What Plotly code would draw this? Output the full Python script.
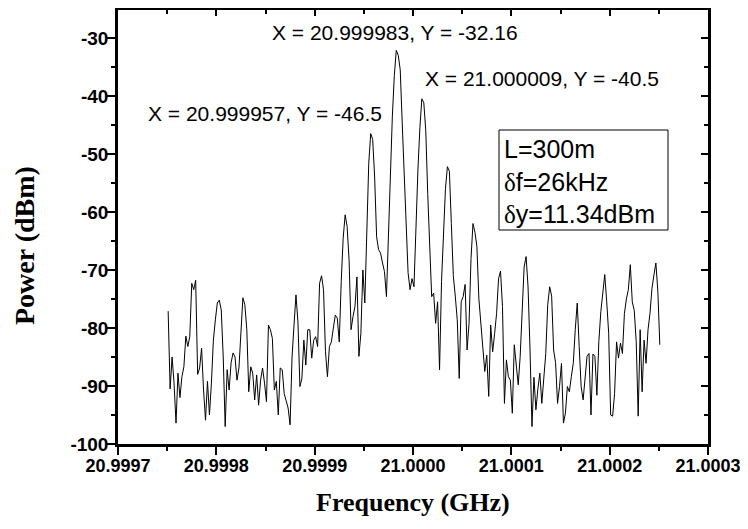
import plotly.graph_objects as go

# ---- data ----
# spectrum analyzer sweep: start frequency and step (GHz), one value per sample below
F_START_GHZ = 20.999751
F_STEP_GHZ = 0.000002

power_dbm = [
    -77.1, -90.5, -85.0, -89.5, -96.4, -87.8, -92.0, -88.4, -86.7, -81.4,
    -83.2, -81.5, -72.3, -73.4, -71.8, -88.0, -86.9, -83.5, -90.7, -95.9,
    -89.2, -95.0, -89.5, -82.1, -78.6, -75.7, -75.2, -76.9, -85.0, -97.0,
    -87.2, -90.7, -86.0, -84.3, -85.0, -89.0, -86.9, -79.8, -74.8, -76.0,
    -80.3, -91.0, -86.7, -87.8, -92.4, -88.1, -93.3, -89.0, -86.9, -89.5,
    -92.7, -79.5, -80.3, -81.8, -90.7, -89.2, -95.0, -86.9, -87.2, -91.3,
    -92.4, -93.8, -96.7, -85.0, -79.5, -74.3, -79.0, -90.1, -88.7, -82.1,
    -86.4, -80.3, -80.3, -85.2, -82.1, -81.5, -83.2, -72.3, -71.0, -73.4,
    -84.1, -88.4, -83.2, -82.4, -80.0, -77.8, -78.3, -82.4, -72.0, -64.5,
    -60.5, -62.5, -68.3, -80.3, -78.0, -76.3, -71.2, -84.9, -80.9, -70.0,
    -75.7, -62.5, -51.6, -46.5, -47.5, -54.0, -64.3, -66.5, -67.1, -68.8,
    -70.3, -74.6, -63.0, -53.3, -43.5, -36.5, -32.16, -33.0, -35.5, -44.5,
    -53.5, -61.5, -70.5, -73.4, -71.5, -72.9, -61.5, -52.8, -45.5, -40.5,
    -41.2, -46.0, -57.0, -67.0, -74.6, -74.0, -79.2, -75.5, -87.2, -72.0,
    -63.5, -56.0, -52.2, -53.0, -62.0, -71.0, -74.5, -78.6, -88.7, -75.5,
    -74.6, -72.5, -83.8, -79.2, -68.0, -62.0, -63.5, -66.0, -75.0, -79.2,
    -84.0, -87.5, -84.7, -91.8, -79.5, -84.1, -81.0, -77.5, -71.5, -70.2,
    -76.3, -93.0, -85.5, -88.4, -89.0, -94.7, -82.9, -86.1, -89.8, -84.9,
    -78.0, -69.5, -67.7, -72.9, -83.8, -97.0, -88.5, -94.1, -90.5, -87.8,
    -93.0, -87.8, -84.4, -76.0, -72.9, -74.5, -83.8, -86.0, -93.0, -90.1,
    -86.1, -96.4, -94.7, -90.1, -91.0, -88.4, -86.1, -80.3, -75.7, -83.2,
    -90.1, -92.4, -88.4, -84.9, -84.4, -95.0, -84.5, -84.9, -91.6, -82.3,
    -77.2, -73.4, -70.8, -75.5, -80.9, -95.0, -95.2, -91.3, -82.4, -85.2,
    -82.6, -84.4, -77.5, -75.0, -73.4, -69.1, -75.5, -77.0, -82.4, -95.2,
    -80.3, -91.0, -82.1, -86.1, -80.3, -77.5, -73.2, -70.9, -68.8, -73.7,
    -82.9,
]

freq_ghz = [F_START_GHZ + i * F_STEP_GHZ for i in range(len(power_dbm))]

x_tick_vals = [20.9997, 20.9998, 20.9999, 21.0000, 21.0001, 21.0002, 21.0003]
x_tick_text = ["20.9997", "20.9998", "20.9999", "21.0000", "21.0001", "21.0002", "21.0003"]
y_tick_vals = [-100, -90, -80, -70, -60, -50, -40, -30]
y_tick_text = ["-100", "-90", "-80", "-70", "-60", "-50", "-40", "-30"]

marker_labels = [
    "X = 20.999983, Y = -32.16",
    "X = 21.000009, Y = -40.5",
    "X = 20.999957, Y = -46.5",
]
info_lines = ["L=300m", "δf=26kHz", "δy=11.34dBm"]

X_RANGE = [20.9997, 21.0003]
Y_RANGE = [-100, -25.2]

# ---- figure ----
OFF = 8  # page body margin in the browser
W, H = 740, 513
ML, MR, MT, MB = 110, 40, 2, 77
PW, PH = W - ML - MR, H - MT - MB


def px_to_paper(px, py):
    """page pixel -> paper coordinates"""
    return (px - OFF - ML) / PW, (OFF + H - MB - py) / PH


fig = go.Figure()
fig.add_trace(go.Scatter(
    x=freq_ghz, y=power_dbm, mode="lines",
    line=dict(color="black", width=1), showlegend=False,
))
# empty trace to create the mirrored top/right axes
fig.add_trace(go.Scatter(x=[], y=[], xaxis="x2", yaxis="y2", showlegend=False))

bold = lambda s: "<b>" + s + "</b>"

fig.update_layout(
    width=W, height=H,
    margin=dict(l=ML, r=MR, t=MT, b=MB),
    paper_bgcolor="white", plot_bgcolor="white",
    xaxis=dict(
        range=X_RANGE, tickmode="array", tickvals=x_tick_vals,
        ticktext=[bold(t) for t in x_tick_text],
        ticks="outside", ticklen=8, tickwidth=2, tickcolor="black",
        showline=True, linecolor="black", linewidth=2.5, showgrid=False, zeroline=False,
        tickfont=dict(family="Liberation Sans, Arial", size=18, color="black"),
        ticklabelstandoff=-4,
        minor=dict(ticks="outside", ticklen=4, tickwidth=2, tickcolor="black",
                   tickmode="linear", tick0=20.99975, dtick=0.0001, showgrid=False),
    ),
    yaxis=dict(
        range=Y_RANGE, tickmode="array", tickvals=y_tick_vals,
        ticktext=[bold(t) for t in y_tick_text],
        ticks="outside", ticklen=8, tickwidth=2, tickcolor="black",
        showline=True, linecolor="black", linewidth=2.5, showgrid=False, zeroline=False,
        tickfont=dict(family="Liberation Sans, Arial", size=19, color="black"),
        ticklabelstandoff=-5,
        minor=dict(ticks="outside", ticklen=4, tickwidth=2, tickcolor="black",
                   tickmode="linear", tick0=-95, dtick=10, showgrid=False),
    ),
    xaxis2=dict(
        overlaying="x", side="top", anchor="y", range=X_RANGE,
        tickmode="array", tickvals=x_tick_vals, showticklabels=False,
        ticks="inside", ticklen=6, tickwidth=2, tickcolor="black",
        showline=True, linecolor="black", linewidth=2.5, showgrid=False, zeroline=False,
        minor=dict(ticks="inside", ticklen=4, tickwidth=2, tickcolor="black",
                   tickmode="linear", tick0=20.99975, dtick=0.0001, showgrid=False),
    ),
    yaxis2=dict(
        overlaying="y", side="right", anchor="x", range=Y_RANGE,
        tickmode="array", tickvals=y_tick_vals, showticklabels=False,
        ticks="inside", ticklen=7, tickwidth=2, tickcolor="black",
        showline=True, linecolor="black", linewidth=2.5, showgrid=False, zeroline=False,
        minor=dict(ticks="inside", ticklen=4, tickwidth=2, tickcolor="black",
                   tickmode="linear", tick0=-95, dtick=10, showgrid=False),
    ),
)

ann_font = dict(family="Liberation Sans, Arial", size=21, color="black")
label_pos = [(270, 32), (423, 78), (146, 113.5)]
for text, (px, py) in zip(marker_labels, label_pos):
    xp, yp = px_to_paper(px, py)
    fig.add_annotation(x=xp, y=yp, xref="paper", yref="paper", text=text,
                       showarrow=False, xanchor="left", yanchor="middle", font=ann_font)

# info box
bx0, by0 = px_to_paper(499, 230)
bx1, by1 = px_to_paper(668, 130)
fig.add_shape(type="rect", xref="paper", yref="paper", x0=bx0, y0=by0, x1=bx1, y1=by1,
              line=dict(color="black", width=1), fillcolor="white", layer="above")
serif_delta = '<span style="font-family:Liberation Serif">δ</span>'
info_html = "<br>".join(l.replace("δ", serif_delta) for l in info_lines)
tx, ty = px_to_paper(502, 181)
fig.add_annotation(x=tx, y=ty, xref="paper", yref="paper", text=info_html, align="left",
                   showarrow=False, xanchor="left", yanchor="middle",
                   font=dict(family="Liberation Sans, Arial", size=25, color="black"))

# axis titles
xt, yt = px_to_paper(413.4, 503)
fig.add_annotation(x=xt, y=yt, xref="paper", yref="paper", text="<b>Frequency (GHz)</b>",
                   showarrow=False, xanchor="center", yanchor="middle",
                   font=dict(family="Liberation Serif, Times New Roman", size=26, color="black"))
xt, yt = px_to_paper(25, 245)
fig.add_annotation(x=xt, y=yt, xref="paper", yref="paper", text="<b>Power (dBm)</b>", textangle=-90,
                   showarrow=False, xanchor="center", yanchor="middle",
                   font=dict(family="Liberation Serif, Times New Roman", size=28, color="black"))

fig.write_html("out.html")
